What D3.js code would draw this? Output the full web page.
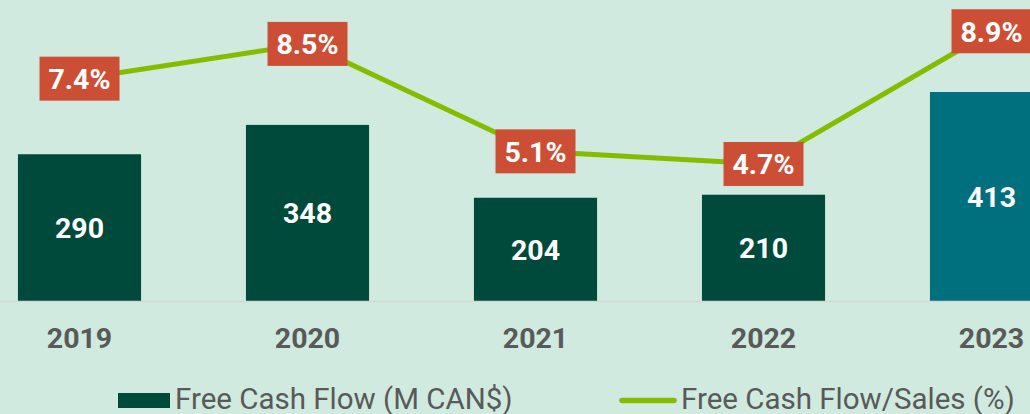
<!DOCTYPE html>
<html>
<head>
<meta charset="utf-8">
<script src="https://cdn.jsdelivr.net/npm/d3@7"></script>
<style>
  html, body { margin: 0; padding: 0; background: #d0eadf; }
  svg { display: block; font-family: Roboto, "Noto Sans", sans-serif; }
</style>
</head>
<body>
<svg id="chart" width="1030" height="414"></svg>
<script>
const years = ["2019", "2020", "2021", "2022", "2023"];
const fcf = [290, 348, 204, 210, 413];
const fcfPct = [7.4, 8.5, 5.1, 4.7, 8.9];
const pctLabels = ["7.4%", "8.5%", "5.1%", "4.7%", "8.9%"];
const legendLabels = ["Free Cash Flow (M CAN$)", "Free Cash Flow/Sales (%)"];

const W = 1030, H = 414;
const svg = d3.select("#chart");
svg.append("rect").attr("width", W).attr("height", H).attr("fill", "#d0eadf");

const baseY = 301;
const x = d3.scaleBand().domain(years).range([-34.5, 1105.5]).paddingInner(0.46).paddingOuter(0.23);
const y = d3.scaleLinear().domain([0, 413]).range([baseY, 92]);
const yPct = d3.scaleLinear().domain([0, 10]).range([312.5, -3.5]);

const barColor = (d, i) => i === years.length - 1 ? "#00707f" : "#004a3c";

// bars
svg.append("g").selectAll("rect").data(fcf).join("rect")
  .attr("x", (d, i) => x(years[i]))
  .attr("y", d => y(d))
  .attr("width", x.bandwidth())
  .attr("height", d => baseY - y(d))
  .attr("fill", barColor);

// axis baseline
svg.append("line").attr("x1", 0).attr("x2", W).attr("y1", baseY + 0.5).attr("y2", baseY + 0.5)
  .attr("stroke", "#d6d6d6").attr("stroke-width", 1.5);

// bar value labels
svg.append("g").selectAll("text").data(fcf).join("text")
  .attr("x", (d, i) => x(years[i]) + x.bandwidth() / 2)
  .attr("y", d => (y(d) + baseY) / 2)
  .attr("dy", "0.36em")
  .attr("text-anchor", "middle")
  .attr("fill", "#ffffff")
  .attr("font-weight", "bold")
  .attr("font-size", 28.5)
  .text(d => d);

// x axis labels
const xAxis = d3.axisBottom(x).tickSize(0).tickPadding(0);
const gx = svg.append("g").attr("transform", `translate(0, ${baseY})`).call(xAxis);
gx.select(".domain").remove();
gx.selectAll("text")
  .attr("y", 47).attr("dy", 0)
  .attr("fill", "#595959")
  .attr("font-weight", "bold")
  .attr("font-size", 28.5)
  .attr("font-family", "Roboto, 'Noto Sans', sans-serif");

// line
const line = d3.line()
  .x((d, i) => x(years[i]) + x.bandwidth() / 2)
  .y(d => yPct(d));
svg.append("path").datum(fcfPct)
  .attr("d", line)
  .attr("fill", "none")
  .attr("stroke", "#84bd00")
  .attr("stroke-width", 5);

// pct label boxes
const boxW = 80, boxH = 44;
const lbl = svg.append("g").selectAll("g").data(fcfPct).join("g")
  .attr("transform", (d, i) => `translate(${x(years[i]) + x.bandwidth() / 2}, ${yPct(d)})`);
lbl.append("rect")
  .attr("x", -boxW / 2).attr("y", -boxH / 2)
  .attr("width", boxW).attr("height", boxH)
  .attr("fill", "#cc4f35");
lbl.append("text")
  .attr("text-anchor", "middle")
  .attr("dy", "0.36em")
  .attr("fill", "#ffffff")
  .attr("font-weight", "bold")
  .attr("font-size", 28.5)
  .text((d, i) => pctLabels[i]);

// legend
const leg = svg.append("g");
leg.append("rect").attr("x", 118).attr("y", 393).attr("width", 52).attr("height", 15).attr("fill", "#004a3c");
leg.append("text").attr("x", 175).attr("y", 408.5).attr("fill", "#595959").attr("font-size", 29.5).text(legendLabels[0]);
leg.append("line").attr("x1", 622).attr("x2", 674).attr("y1", 400.5).attr("y2", 400.5)
  .attr("stroke", "#84bd00").attr("stroke-width", 5.5).attr("stroke-linecap", "round");
leg.append("text").attr("x", 681).attr("y", 408.5).attr("fill", "#595959").attr("font-size", 29.5).text(legendLabels[1]);
</script>
</body>
</html>
